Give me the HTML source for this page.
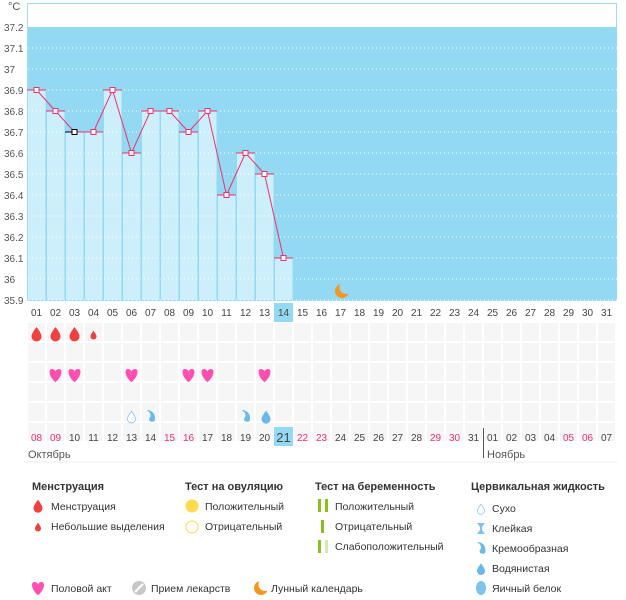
<!DOCTYPE html>
<html><head><meta charset="utf-8"><style>
body{margin:0;background:#fff;width:626px;height:595px;overflow:hidden;font-family:"Liberation Sans","DejaVu Sans",sans-serif}
text{font-family:"Liberation Sans","DejaVu Sans",sans-serif}
</style></head><body>
<svg id="s" width="626" height="595" xmlns="http://www.w3.org/2000/svg"></svg>
<script>
const s=document.getElementById('s');let h='';
const X0=27,W=19,Y=v=>300-(v-35.9)*210;
h+='<rect x="27.5" y="3.5" width="589" height="297" fill="#fff" stroke="#9fdcf3"/>';
h+='<rect x="28" y="27" width="589" height="273" fill="#94d9f3"/>';
const vals=[36.9,36.8,36.7,36.7,36.9,36.6,36.8,36.8,36.7,36.8,36.4,36.6,36.5,36.1];
vals.forEach((v,i)=>{h+=`<rect x="${X0+W*i+1}" y="${Y(v)}" width="${W-1}" height="${300-Y(v)}" fill="#cdeefb"/>`;});
for(let k=1;k<=13;k++){const y=27+21*k;h+=`<line x1="28" y1="${y}" x2="617" y2="${y}" stroke="#fff" stroke-dasharray="1,3" stroke-width="1"/>`;}
for(let i=1;i<=14;i++){h+=`<line x1="${X0+W*i}" y1="${Y(vals[i-1])}" x2="${X0+W*i}" y2="300" stroke="#94d9f3"/>`;}
vals.forEach((v,i)=>{h+=`<line x1="${X0+W*i}" y1="${Y(v)}" x2="${X0+W*i+W}" y2="${Y(v)}" stroke="${i==2?'#000':'#f0306a'}"/>`;});
let pts=vals.map((v,i)=>`${X0+W*i+9.5},${Y(v)}`).join(' ');
h+=`<polyline points="${pts}" fill="none" stroke="#f0306a" stroke-width="1"/>`;
vals.forEach((v,i)=>{h+=`<rect x="${X0+W*i+7}" y="${Y(v)-2.5}" width="5" height="5" fill="#fff" stroke="${i==2?'#000':'#f0306a'}"/>`;});
const labs=['37.2','37.1','37','36.9','36.8','36.7','36.6','36.5','36.4','36.3','36.2','36.1','36','35.9'];
labs.forEach((l,k)=>{h+=`<text x="4" y="${31+21*k}" font-size="10" fill="#555">${l}</text>`;});
h+='<text x="8" y="10" font-size="11" fill="#555">°C</text>';
const moon=(cx,cy,bg)=>`<circle cx="${cx}" cy="${cy}" r="7" fill="#f5961e"/><circle cx="${cx+4}" cy="${cy-3.5}" r="6.5" fill="${bg}"/>`;
h+=moon(342,291,'#94d9f3');
// top date row
h+='<rect x="274" y="303" width="19" height="19" fill="#94d9f3"/>';
for(let i=1;i<=31;i++){const x=X0+W*(i-1)+9.5;h+=`<text x="${x}" y="316" font-size="10" fill="#444" text-anchor="middle">${String(i).padStart(2,'0')}</text>`;}
for(let r=0;r<6;r++)for(let i=0;i<31;i++){h+=`<rect x="${X0+W*i+1}" y="${322+20*r+1}" width="${W-2}" height="18" fill="#f6f6f6"/>`;}
const drop=(cx,cy,sc,c,fill)=>`<path transform="translate(${cx},${cy}) scale(${sc})" d="M0,-7 C3,-3 5,0 5,2.5 A5,5 0 0 1 -5,2.5 C-5,0 -3,-3 0,-7z" fill="${fill?c:'#fff'}" stroke="${c}" stroke-width="${fill?0:1}"/>`;
const heart=(cx,cy,c,sc=1)=>`<path transform="translate(${cx},${cy}) scale(${sc})" d="M0,6 C-6,1 -6,-5 -3,-5 C-1.5,-5 0,-4 0,-2.5 C0,-4 1.5,-5 3,-5 C6,-5 6,1 0,6z" fill="${c}"/>`;
[1,2,3].forEach(i=>h+=drop(X0+W*(i-1)+9.5,334,1,'#f04040',1));
h+=drop(X0+W*3+9.5,335,0.6,'#f04040',1);
[2,3,6,9,10,13].forEach(i=>h+=heart(X0+W*(i-1)+9.5,375,'#ff4fb0',1.2));
h+=drop(X0+W*5+9.5,417,0.8,'#7cc4ee',0);
h+=drop(X0+W*12+11,417,0.9,'#6bb9ea',1);
[7,12].forEach(i=>h+=`<path transform="translate(${X0+W*(i-1)+9.5},416)" d="M-4,-6 C2,-6 6,-1 4,5 C2,7 -3,5 -1,2 C1,0 0,-4 -4,-6z" fill="#6bb9ea"/>`);
h+='<rect x="274" y="427" width="19" height="19" fill="#94d9f3"/>';
const bd=[8,9,10,11,12,13,14,15,16,17,18,19,20,21,22,23,24,25,26,27,28,29,30,31,1,2,3,4,5,6,7];
const red=[0,1,7,8,14,15,21,22,28,29];
bd.forEach((d,i)=>{const x=X0+W*i+9.5;h+=`<text x="${x}" y="${i==13?442:441}" font-size="${i==13?13:10}" fill="${red.includes(i)?'#f0306a':'#444'}" text-anchor="middle">${String(d).padStart(2,'0')}</text>`;});
h+='<line x1="483.5" y1="428" x2="483.5" y2="458" stroke="#555"/>';
h+='<text x="28" y="458" font-size="11" fill="#555">Октябрь</text><text x="487" y="458" font-size="11" fill="#555">Ноябрь</text>';
h+='<line x1="27" y1="462" x2="617" y2="462" stroke="#eee"/>';
const T=(x,y,t,b)=>`<text x="${x}" y="${y}" font-size="${b?11:10.5}" ${b?'font-weight="bold"':''} fill="#333">${t}</text>`;
h+=T(32,490,'Менструация',1)+T(185,490,'Тест на овуляцию',1)+T(315,490,'Тест на беременность',1)+T(471,490,'Цервикальная жидкость',1);
h+=drop(38,506,0.9,'#f04040',1)+T(51,510,'Менструация');
h+=drop(38,527,0.6,'#f04040',1)+T(51,530,'Небольшие выделения');
h+='<circle cx="192" cy="506" r="6.5" fill="#fddb4a"/>'+T(205,510,'Положительный');
h+='<circle cx="192" cy="527" r="6" fill="#fff" stroke="#fddb4a"/>'+T(205,530,'Отрицательный');
h+='<rect x="318" y="499" width="3" height="13" fill="#8cbf1e"/><rect x="325" y="499" width="3" height="13" fill="#8cbf1e"/>'+T(335,510,'Положительный');
h+='<rect x="321" y="520" width="3" height="13" fill="#8cbf1e"/>'+T(335,530,'Отрицательный');
h+='<rect x="318" y="540" width="3" height="13" fill="#8cbf1e"/><rect x="325" y="540" width="3" height="13" fill="#d4e9b0"/>'+T(335,550,'Слабоположительный');
h+=drop(481,509,0.7,'#7cc4ee',0)+T(492,512,'Сухо');
h+='<path d="M477,523 h8 l-3,4 v3 l3,4 h-8 l3,-4 v-3z" fill="#7cc4ee"/>'+T(492,532,'Клейкая');
h+='<path transform="translate(481,548)" d="M-4,-6 C2,-6 6,-1 4,5 C2,7 -3,5 -1,2 C1,0 0,-4 -4,-6z" fill="#6bb9ea"/>'+T(492,552,'Кремообразная');
h+=drop(481,569,0.8,'#6bb9ea',1)+T(492,572,'Водянистая');
h+='<ellipse cx="481" cy="588" rx="5" ry="7" fill="#7cc4ee"/>'+T(492,592,'Яичный белок');
h+=heart(38,588,'#ff4fb0',1.2)+T(51,592,'Половой акт');
h+='<circle cx="139" cy="588" r="7" fill="#c8c8c8"/><line x1="135" y1="592" x2="143" y2="584" stroke="#fff" stroke-width="2"/>'+T(151,592,'Прием лекарств');
h+=moon(261,588,'#fff')+T(271,592,'Лунный календарь');
s.innerHTML=h;
</script>
</body></html>
